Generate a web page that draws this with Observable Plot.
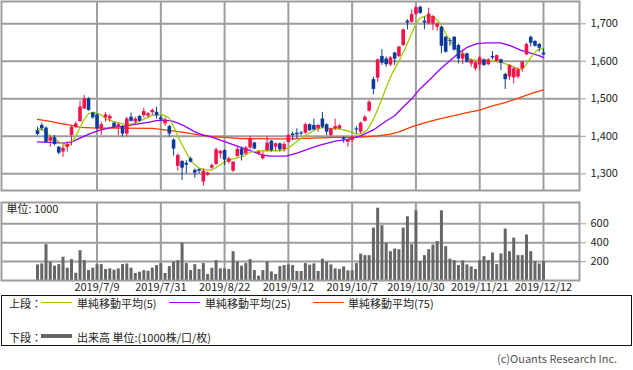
<!DOCTYPE html>
<html><head><meta charset="utf-8">
<script src="https://cdn.jsdelivr.net/npm/d3@7"></script>
<script src="https://cdn.jsdelivr.net/npm/@observablehq/plot@0.6"></script>
<style>
body{margin:0;background:#fff;font-family:"Noto Sans CJK JP","Noto Sans",sans-serif;color:#222;}
#wrap{position:relative;width:633px;height:370px;overflow:hidden;background:#fff;}
#top{position:absolute;left:0;top:0;}
#bot{position:absolute;left:0;top:201px;}
#legend{position:absolute;left:1px;top:295px;width:631px;height:51px;border:1px solid #111;box-sizing:border-box;font-size:11px;}
#legend span.t{position:absolute;height:14px;line-height:14px;white-space:nowrap;}
#legend span.l{position:absolute;height:0;}
#copy{position:absolute;left:497px;top:350px;font-size:11px;color:#555;line-height:16px;white-space:nowrap;}
</style></head>
<body>
<div id="wrap">
  <div id="top"></div>
  <div id="bot"></div>
  <div id="legend"></div>
  <div id="copy">(c)Ouants Research Inc.</div>
</div>
<script>
// ---- data (one entry per trading day, oldest first) ----
const openP = [1415,1429,1422,1387,1396,1371,1358,1371,1402,1424,1439,1473,1500,1462,1457,1420,1449,1446,1435,1424,
1426,1406,1451,1438,1453,1455,1454,1463,1464,1449,1433,1426,1390,1320,1333,1328,1340,1309,1311,1278,
1296,1315,1325,1353,1362,1331,1307,1346,1366,1353,1369,1382,1353,1340,1362,1387,1371,1380,1365,1384,
1406,1408,1409,1408,1431,1429,1420,1446,1431,1402,1420,1420,1396,1384,1389,1420,1411,1440,1467,1551,
1555,1613,1606,1590,1622,1613,1642,1707,1704,1725,1744,1707,1700,1700,1691,1691,1664,1655,1664,1642,
1606,1620,1593,1580,1590,1604,1591,1613,1599,1604,1565,1558,1556,1558,1580,1617,1664,1653,1645,1622];
const highP = [1424,1435,1425,1402,1402,1373,1375,1384,1429,1438,1494,1509,1503,1464,1460,1438,1463,1458,1438,1435,
1429,1451,1462,1451,1455,1475,1464,1473,1478,1455,1449,1429,1393,1353,1335,1335,1344,1313,1313,1313,
1304,1326,1369,1362,1364,1344,1333,1371,1371,1373,1400,1384,1362,1358,1399,1389,1382,1382,1384,1405,
1411,1420,1413,1435,1433,1446,1431,1464,1433,1422,1446,1431,1398,1393,1399,1426,1438,1455,1495,1558,
1606,1631,1611,1613,1624,1640,1686,1711,1737,1746,1747,1718,1742,1722,1702,1693,1666,1660,1666,1645,
1631,1622,1606,1599,1613,1606,1607,1626,1617,1606,1568,1591,1584,1582,1599,1648,1667,1655,1647,1633];
const lowP = [1402,1415,1382,1371,1375,1351,1344,1358,1375,1420,1438,1471,1467,1446,1417,1402,1438,1438,1422,1402,
1398,1399,1438,1431,1438,1449,1449,1455,1446,1440,1426,1398,1347,1307,1282,1300,1329,1288,1300,1267,
1294,1311,1322,1340,1322,1326,1304,1344,1334,1349,1364,1364,1349,1337,1359,1358,1360,1358,1358,1382,
1389,1393,1402,1406,1413,1415,1411,1420,1402,1399,1415,1417,1382,1371,1384,1406,1406,1438,1464,1511,
1544,1589,1584,1586,1589,1609,1640,1684,1702,1722,1725,1684,1698,1682,1680,1620,1622,1640,1627,1593,
1591,1595,1584,1574,1575,1586,1588,1604,1598,1575,1525,1549,1540,1553,1571,1615,1638,1638,1624,1615];
const closeP = [1405,1420,1384,1396,1378,1355,1368,1378,1424,1433,1478,1500,1469,1449,1420,1431,1457,1453,1424,1431,
1406,1446,1440,1446,1440,1466,1460,1469,1455,1444,1444,1406,1366,1349,1315,1323,1331,1302,1307,1307,
1302,1322,1364,1360,1337,1340,1331,1365,1349,1369,1393,1366,1358,1351,1382,1362,1380,1364,1378,1402,
1402,1404,1406,1431,1415,1417,1429,1424,1411,1420,1426,1428,1392,1390,1398,1417,1435,1451,1491,1525,
1604,1595,1591,1609,1606,1638,1684,1702,1725,1743,1728,1702,1726,1719,1700,1640,1624,1653,1630,1606,
1620,1598,1602,1596,1609,1589,1604,1609,1615,1595,1551,1589,1580,1577,1598,1645,1648,1640,1635,1617];
const volume = [165,175,379,193,151,168,246,130,221,77,316,210,105,130,168,168,116,123,109,123,
168,175,130,74,88,105,98,130,158,179,74,147,193,210,396,179,105,168,116,179,
63,130,210,123,123,116,305,196,151,179,221,105,46,105,196,91,63,147,158,165,
158,95,95,179,162,175,95,226,193,165,123,116,144,102,102,179,279,263,263,554,
765,579,393,305,333,326,554,674,379,737,200,263,326,375,411,737,358,226,210,158,
207,165,144,116,210,253,210,291,168,281,544,305,449,263,263,481,305,200,175,200];

// moving averages: [day index, value]
const ma5 = [[0,1421],[1.5,1415],[3,1400],[5,1386],[6.2,1377],[7.1,1372],[8.1,1384],[9.3,1407],[10.9,1444],[12.1,1461],
[13.2,1464],[14.8,1458],[16.4,1445],[18,1439],[19.8,1434],[21,1431],[23,1435],[25,1446],[27,1456],[29.5,1457],
[30.9,1449],[32.1,1424],[33.4,1391],[35,1356],[36.4,1330],[38,1315],[39.8,1310],[41.1,1310],[42.5,1320],[44,1332],
[46,1340],[48.5,1347],[50.1,1358],[52,1361],[54,1362],[56.4,1361],[58,1364],[59.5,1373],[61,1386],[63,1402],
[65.4,1418],[67,1424],[68.6,1421],[71,1420],[73.2,1414],[75,1406],[76.4,1408],[77.5,1416],[79,1445],[80.5,1485],
[82,1530],[83.5,1570],[85,1600],[86.5,1635],[88,1675],[89,1700],[90,1716],[91.6,1722],[93.2,1718],[94.8,1700],
[96.3,1668],[97.9,1640],[99.5,1623],[101.8,1605],[104.2,1601],[106.5,1602],[108.9,1598],[111.2,1589],[113.4,1578],[114.4,1583],
[116,1610],[117.5,1630],[119,1635]];
const ma25 = [[0,1385],[3,1384],[6.2,1382],[8.1,1385],[10,1395],[12.5,1408],[14.5,1416],[17.5,1424],[21,1428],[24,1434],
[26,1437],[28,1442],[29.5,1443],[31.5,1441],[33,1435],[34.5,1428],[36.8,1413],[38.5,1405],[41,1398],[43,1390],
[46,1378],[48.5,1368],[51,1358],[53,1350],[55,1347],[58.5,1347],[61,1355],[63,1363],[66,1375],[70,1387],
[73,1392],[76,1401],[79,1417],[82,1441],[84,1455],[86,1478],[88,1500],[90,1527],[92.4,1553],[94.8,1580],
[97.1,1603],[99.1,1622],[101,1637],[103.4,1647],[105.8,1649],[108.9,1649],[111.2,1642],[113.6,1630],[116,1622],[118.3,1614],[119,1610]];
const ma75 = [[0,1445],[3,1440],[5,1435],[8,1429],[10,1424],[14,1422],[20,1422],[27,1421],[30,1417],[34,1411],
[38,1404],[41,1399],[44,1397],[48,1394],[55,1393],[60,1393],[65,1395],[70,1397],[76,1398],[80,1401],
[83,1406],[85,1412],[88,1425],[91,1436],[95,1448],[98,1455],[101,1463],[104,1470],[107,1481],[110,1490],
[113,1501],[116,1514],[119,1524]];

const tickIdx = [14,29,44,59,74,89,104,119];
const tickLabels = ["2019/7/9","2019/7/31","2019/8/22","2019/9/12","2019/10/7","2019/10/30","2019/11/21","2019/12/12"];
const priceTicks = [1300,1400,1500,1600,1700];
const volTicks = [200,400,600];

// ---- build ----
const candles = openP.map((o, i) => ({i, open: o, high: highP[i], low: lowP[i], close: closeP[i], vol: volume[i]}));
const RED = "#f5124a", BLUE = "#0a3b9c", GRID = "#9d9d9d";
const col = d => d.close >= d.open ? RED : BLUE;
const xDomain = [-8.467, 127.47];
const font = "'Noto Sans CJK JP','Noto Sans',sans-serif";
const style = {fontFamily: font, fontSize: "11px", color: "#222", background: "transparent", overflow: "visible"};

const topPlot = Plot.plot({
  width: 633, height: 191, marginLeft: 1, marginRight: 54, marginTop: 1, marginBottom: 1,
  style,
  x: {domain: xDomain, axis: null},
  y: {domain: [1255.5, 1759.5]},
  color: {type: "identity"},
  marks: [
    Plot.ruleY(priceTicks, {stroke: GRID, strokeWidth: 2}),
    Plot.ruleX(tickIdx, {stroke: GRID, strokeWidth: 2}),
    Plot.frame({stroke: GRID, strokeWidth: 2}),
    Plot.axisY({anchor: "right", label: null, ticks: priceTicks, tickFormat: d3.format(","), tickSize: 6, tickPadding: 5, stroke: GRID, fill: "#222", fontSize: 11}),
    Plot.line(ma75, {x: d => d[0], y: d => d[1], stroke: "#ff3a00", strokeWidth: 1.3}),
    Plot.line(ma25, {x: d => d[0], y: d => d[1], stroke: "#9a00ff", strokeWidth: 1.3}),
    Plot.line(ma5, {x: d => d[0], y: d => d[1], stroke: "#9ccc00", strokeWidth: 1.3}),
    Plot.ruleX(candles, {x: "i", y1: "low", y2: "high", stroke: col, strokeWidth: 1}),
    Plot.ruleX(candles, {x: "i", y1: "open", y2: "close", stroke: col, strokeWidth: 3.6})
  ]
});
document.getElementById("top").appendChild(topPlot);

const botPlot = Plot.plot({
  width: 633, height: 98, marginLeft: 1, marginRight: 54, marginTop: 1, marginBottom: 19,
  style,
  x: {domain: xDomain, label: null},
  y: {domain: [0, 825], label: null},
  marks: [
    Plot.ruleY(volTicks, {stroke: GRID, strokeWidth: 2}),
    Plot.ruleX(tickIdx, {stroke: GRID, strokeWidth: 2}),
    Plot.ruleX(candles, {x: "i", y1: 0, y2: "vol", stroke: "#666", strokeWidth: 3}),
    Plot.frame({stroke: GRID, strokeWidth: 2}),
    Plot.axisY({anchor: "right", label: null, ticks: volTicks, tickSize: 6, tickPadding: 5, stroke: GRID, fill: "#222", fontSize: 11}),
    Plot.axisX({label: null, ticks: tickIdx, tickFormat: v => tickLabels[tickIdx.indexOf(v)], tickSize: 0, tickPadding: 3, fill: "#222", fontSize: 11}),
    Plot.text(["単位: 1000"], {text: d => d, frameAnchor: "top-left", dx: 5, dy: 7, textAnchor: "start", lineAnchor: "middle", fill: "#222", fontSize: 11})
  ]
});
document.getElementById("bot").appendChild(botPlot);

// ---- legend ----
const legendItems = [
  {kind: "t", x: 7, y: 0, text: "上段："},
  {kind: "l", x: 39, y: 7, w: 31, color: "#9ccc00", h: 1.5},
  {kind: "t", x: 75, y: 0, text: "単純移動平均(5)"},
  {kind: "l", x: 167, y: 7, w: 31, color: "#9a00ff", h: 1.5},
  {kind: "t", x: 203, y: 0, text: "単純移動平均(25)"},
  {kind: "l", x: 311, y: 7, w: 31, color: "#ff3a00", h: 1.5},
  {kind: "t", x: 346, y: 0, text: "単純移動平均(75)"},
  {kind: "t", x: 7, y: 34, text: "下段："},
  {kind: "l", x: 39, y: 40, w: 31, color: "#666", h: 4},
  {kind: "t", x: 75, y: 34, text: "出来高 単位:(1000株/口/枚)"}
];
const lg = document.getElementById("legend");
legendItems.forEach(it => {
  const s = document.createElement("span");
  s.className = it.kind;
  s.style.left = it.x + "px";
  if (it.kind === "t") { s.style.top = it.y + "px"; s.textContent = it.text; }
  else { s.style.top = (it.y - it.h / 2) + "px"; s.style.width = it.w + "px"; s.style.borderTop = it.h + "px solid " + it.color; }
  lg.appendChild(s);
});
</script>
</body></html>
